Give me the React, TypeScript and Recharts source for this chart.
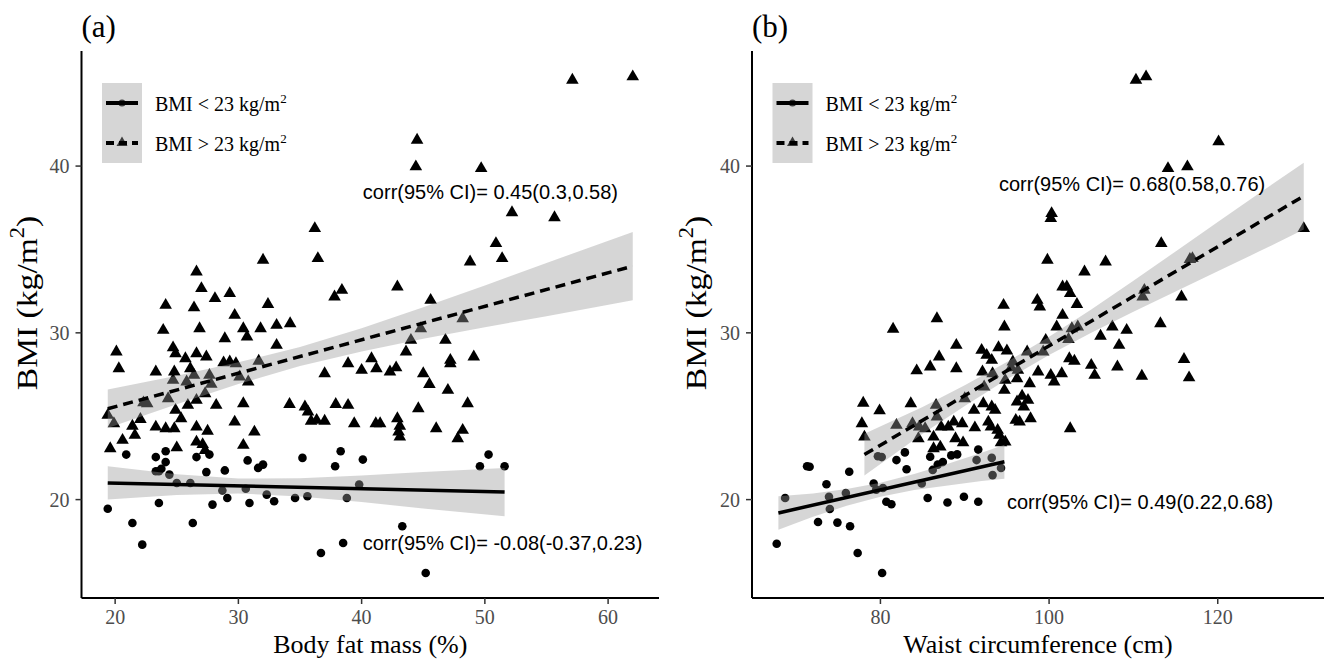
import React from 'react';
import { Area, ComposedChart, Line, Scatter, XAxis, YAxis } from 'recharts';

const SERIF = '"Liberation Serif", "Times New Roman", serif';
const SANS = '"Liberation Sans", Arial, sans-serif';

// shared y axis (BMI)
const bmiDomain = [14.1, 46.9];
const bmiTicks = [20, 30, 40];

// ---- panel (a): body fat mass (%) ----
const fatTicks = [20, 30, 40, 50, 60];
const fatDomain = [17.27, 64.13];

const fatLow: [number, number][] = [
  [19.4, 19.45], [20.9, 22.7], [21.4, 18.6], [22.2, 17.3], [23.3, 22.55], [23.55, 21.7], [24.1, 22.9],
  [24.1, 22.25], [23.75, 21.85], [23.3, 21.7], [24.4, 21.5], [25.0, 21.0], [26.1, 21.0], [23.55, 19.8],
  [26.3, 18.6], [26.6, 22.55], [27.65, 22.7], [27.4, 21.65], [28.9, 21.75], [28.7, 20.55], [29.1, 20.1],
  [27.9, 19.7], [30.75, 22.35], [32.0, 22.1], [31.6, 21.9], [30.6, 20.65], [30.9, 19.8], [32.3, 20.3],
  [32.9, 19.9], [34.6, 20.1], [35.6, 20.2], [35.2, 22.5], [37.85, 22.0], [38.3, 22.9], [40.1, 22.4],
  [39.8, 20.9], [38.8, 20.1], [38.5, 17.4], [36.7, 16.8], [43.3, 18.4], [45.2, 15.6], [50.3, 22.7],
  [49.6, 22.0], [51.6, 22.0],
];

const fatHigh: [number, number][] = [
  [57.1, 45.2], [62.0, 45.4], [44.5, 41.6], [44.4, 40.0], [49.7, 39.9], [52.2, 37.25], [55.65, 36.95],
  [36.2, 36.3], [36.45, 34.5], [50.9, 35.4], [51.4, 34.5], [48.8, 34.3], [32.0, 34.4], [26.6, 33.7],
  [27.0, 32.7], [42.9, 32.8], [38.4, 32.6], [37.8, 32.2], [28.1, 32.1], [29.3, 32.4], [24.1, 31.7],
  [26.4, 31.55], [32.4, 31.75], [45.6, 32.0], [29.7, 31.1], [30.4, 30.3], [30.7, 29.8], [23.9, 30.2],
  [26.85, 30.3], [31.8, 30.3], [33.1, 30.5], [34.2, 30.6], [48.2, 30.9], [44.8, 30.3], [44.0, 29.6],
  [43.6, 28.9], [46.8, 29.6], [20.1, 28.9], [20.3, 27.9], [24.7, 29.15], [24.9, 28.8], [25.7, 28.5],
  [26.6, 28.8], [27.4, 28.6], [28.9, 29.7], [33.1, 29.3], [28.8, 28.25], [29.3, 28.3], [29.8, 28.2],
  [31.65, 28.35], [40.8, 28.5], [38.9, 28.2], [49.1, 28.6], [47.2, 28.4], [47.2, 28.2], [23.3, 27.7],
  [24.8, 27.7], [26.1, 27.9], [37.0, 27.6], [40.0, 27.8], [41.2, 27.9], [42.3, 27.7], [42.8, 27.95],
  [45.0, 27.6], [45.5, 26.95], [47.0, 26.6], [26.4, 27.5], [27.65, 27.5], [27.8, 26.96], [27.3, 26.4],
  [24.7, 27.2], [25.8, 27.1], [30.1, 27.4], [30.8, 27.1], [22.3, 25.85], [22.6, 25.8], [24.3, 26.1],
  [26.6, 26.0], [25.9, 25.7], [28.2, 25.7], [30.4, 25.8], [34.15, 25.75], [37.9, 25.75], [38.9, 25.7],
  [48.6, 25.8], [19.4, 25.1], [19.9, 24.6], [22.05, 24.85], [21.4, 24.45], [21.6, 23.9], [24.9, 25.4],
  [25.35, 24.9], [23.3, 24.4], [24.1, 24.3], [24.8, 24.3], [26.6, 24.4], [27.5, 24.15], [20.6, 23.6],
  [19.6, 23.1], [25.0, 23.15], [26.6, 23.5], [27.1, 23.35], [27.3, 23.0], [30.4, 23.3], [29.7, 24.7],
  [31.3, 24.1], [35.4, 25.6], [35.65, 25.3], [35.9, 24.75], [36.35, 24.8], [37.0, 24.75], [39.4, 24.6],
  [41.15, 24.6], [41.5, 24.6], [42.9, 24.9], [43.1, 24.45], [43.0, 24.1], [43.1, 23.8], [44.6, 25.5],
  [46.05, 24.3], [48.2, 24.2], [47.8, 23.7],
];

// fitted lines (end points) and 95% CI bands [x, lower, upper]
const fatLowFit: [number, number][] = [[19.4, 21.0], [51.6, 20.45]];
const fatHighFit: [number, number][] = [[19.4, 25.45], [62.0, 34.0]];
const fatLowBand: [number, number, number][] = [
  [19.4, 20.0, 22.0], [25, 20.28, 21.52], [30, 20.37, 21.27], [35, 20.18, 21.28],
  [40, 19.85, 21.45], [45, 19.46, 21.66], [51.6, 19.0, 21.9],
];
const fatHighBand: [number, number, number][] = [
  [19.4, 24.3, 26.6], [25, 25.72, 27.42], [30, 26.93, 28.23], [35, 28.01, 29.15], [40, 28.88, 30.28],
  [45, 29.64, 31.54], [50, 30.34, 32.84], [55, 30.99, 34.19], [62.0, 31.95, 36.05],
];
const fatNotes = [
  { x: 40.1, y: 38.45, text: 'corr(95% CI)= 0.45(0.3,0.58)' },
  { x: 40.1, y: 17.4, text: 'corr(95% CI)= -0.08(-0.37,0.23)' },
];

// ---- panel (b): waist circumference (cm) ----
const waistTicks = [80, 100, 120];
const waistDomain = [64.77, 132.6];

const waistLow: [number, number][] = [
  [67.7, 17.35], [68.7, 20.1], [71.3, 22.0], [71.6, 21.97], [73.6, 20.92], [73.9, 20.17], [74.0, 19.44],
  [72.6, 18.66], [74.9, 18.62], [75.9, 20.4], [76.3, 21.67], [76.4, 18.4], [77.3, 16.8], [79.2, 20.97],
  [79.5, 20.6], [79.7, 22.6], [80.15, 22.55], [80.2, 15.6], [80.3, 20.7], [80.7, 19.87], [81.3, 19.72],
  [81.9, 22.37], [82.9, 22.83], [83.1, 21.82], [84.9, 20.97], [85.6, 20.1], [85.9, 22.57], [86.2, 21.78],
  [86.8, 22.1], [87.4, 22.25], [87.95, 19.83], [88.4, 22.65], [89.1, 22.71], [89.9, 20.17], [91.6, 23.0],
  [91.4, 22.37], [91.6, 19.87], [93.2, 22.5], [93.3, 21.47], [94.3, 21.9],
];

const waistHigh: [number, number][] = [
  [110.3, 45.2], [111.5, 45.4], [120.1, 41.5], [114.1, 39.9], [116.4, 40.0], [100.3, 37.2], [100.2, 36.9],
  [130.2, 36.3], [99.8, 34.4], [106.7, 34.3], [104.2, 33.7], [113.3, 35.4], [116.7, 34.45], [117.0, 34.5],
  [101.6, 32.8], [102.1, 32.8], [102.5, 32.4], [98.6, 32.0], [98.9, 31.6], [103.3, 31.75], [115.7, 32.2],
  [111.1, 32.2], [111.3, 32.6], [94.6, 31.7], [94.7, 30.4], [101.6, 31.1], [81.5, 30.27], [86.7, 30.9],
  [113.2, 30.6], [100.9, 30.4], [102.7, 30.3], [103.4, 30.4], [107.5, 30.4], [109.2, 30.2], [106.1, 29.85],
  [108.3, 29.3], [89.0, 29.3], [92.0, 29.0], [94.0, 29.16], [95.0, 28.96], [97.4, 28.9], [99.3, 28.9],
  [99.6, 29.6], [102.3, 29.65], [92.6, 28.7], [93.2, 28.4], [95.7, 28.3], [102.4, 28.5], [103.0, 28.35],
  [105.0, 28.1], [116.0, 28.45], [86.96, 28.6], [85.9, 28.0], [84.3, 27.77], [89.0, 27.9], [95.5, 27.95],
  [96.3, 27.8], [98.7, 27.7], [101.5, 27.6], [105.4, 27.5], [108.1, 28.0], [111.0, 27.45], [116.6, 27.35],
  [92.1, 27.7], [93.3, 27.6], [94.8, 27.2], [96.2, 27.3], [97.7, 27.0], [100.6, 27.1], [77.96, 25.83],
  [79.9, 25.37], [77.8, 24.6], [78.1, 23.8], [81.9, 24.5], [83.6, 25.8], [83.8, 24.6], [84.6, 24.4],
  [85.3, 24.3], [84.5, 23.7], [86.6, 25.7], [86.7, 25.0], [86.3, 23.8], [87.2, 24.4], [88.05, 24.4],
  [88.7, 24.7], [89.7, 24.6], [90.0, 26.1], [91.1, 25.4], [91.2, 24.35], [92.2, 25.8], [92.3, 26.8],
  [93.2, 25.6], [93.6, 25.4], [93.1, 24.4], [92.8, 24.7], [88.9, 23.7], [89.8, 23.45], [87.1, 23.2],
  [86.3, 23.1], [93.9, 24.2], [94.1, 23.9], [94.3, 23.45], [94.8, 23.5], [96.2, 25.9], [96.8, 26.25],
  [97.0, 25.6], [97.5, 26.0], [96.05, 24.8], [96.5, 24.7], [97.8, 24.9], [94.7, 26.6], [102.5, 24.3],
  [100.2, 27.5],
];

const waistLowFit: [number, number][] = [[67.9, 19.2], [94.7, 22.27]];
const waistHighFit: [number, number][] = [[78.1, 22.7], [130.2, 38.2]];
const waistLowBand: [number, number, number][] = [
  [67.9, 18.2, 20.2], [72, 18.97, 20.37], [76, 19.63, 20.63], [80, 20.17, 21.01],
  [84, 20.57, 21.53], [88, 20.85, 22.15], [92, 21.11, 22.81], [94.7, 21.25, 23.29],
];
const waistHighBand: [number, number, number][] = [
  [78.1, 21.45, 23.95], [85, 23.95, 25.55], [90, 25.62, 26.86], [95, 27.21, 28.25], [100, 28.67, 29.77],
  [105, 30.0, 31.4], [110, 31.26, 33.12], [115, 32.48, 34.88], [120, 33.69, 36.65], [125, 34.9, 38.4],
  [130.2, 36.2, 40.2],
];
const waistNotes = [
  { x: 94.06, y: 38.95, text: 'corr(95% CI)= 0.68(0.58,0.76)' },
  { x: 95.0, y: 19.86, text: 'corr(95% CI)= 0.49(0.22,0.68)' },
];

const toPoints = (rows: [number, number][]) => rows.map(([x, y]) => ({ x, y }));
const toBand = (rows: [number, number, number][]) => rows.map(([x, lo, hi]) => ({ x, range: [lo, hi] }));

const DotShape = (p: any) => (p.cx == null ? null : <circle cx={p.cx} cy={p.cy} r={4.3} fill="#000" />);
const TriShape = (p: any) =>
  p.cx == null ? null : (
    <path d={`M${p.cx},${p.cy - 6.6}L${p.cx + 6.3},${p.cy + 4.3}L${p.cx - 6.3},${p.cy + 4.3}Z`} fill="#000" />
  );
const NoteShape = (p: any) =>
  p.cx == null ? null : (
    <text x={p.cx} y={p.cy} dominantBaseline="central" fontSize={20} fontFamily={SANS} fill="#000">
      {p.payload?.text ?? p.text}
    </text>
  );

const H = 662;
const TOP = 51;
const BOTTOM = 598;

function Panel(props: {
  width: number;
  axisLeft: number;
  plotRight: number;
  tag: string;
  xLabel: string;
  xDomain: number[];
  xTicks: number[];
  low: [number, number][];
  high: [number, number][];
  lowFit: [number, number][];
  highFit: [number, number][];
  lowBand: [number, number, number][];
  highBand: [number, number, number][];
  notes: { x: number; y: number; text: string }[];
  yLabelX: number;
}) {
  const { width, axisLeft, plotRight } = props;
  const tickStyle = { fill: '#4D4D4D', fontSize: 20, fontFamily: SERIF };
  const legX = axisLeft + 20.5;
  const rightGap = width - plotRight;
  return (
    <div style={{ position: 'relative', width, height: H }}>
      {/* layer 1: axes + points */}
      <ComposedChart width={width} height={H} margin={{ top: TOP, right: rightGap, bottom: 0, left: 0 }}>
        <XAxis
          type="number"
          dataKey="x"
          domain={props.xDomain}
          ticks={props.xTicks}
          allowDataOverflow
          height={H - BOTTOM}
          tick={tickStyle}
          tickSize={6}
          tickMargin={6}
          axisLine={{ stroke: '#000', strokeWidth: 2 }}
          tickLine={{ stroke: '#333', strokeWidth: 1.5 }}
          label={{ value: props.xLabel, position: 'insideBottom', offset: 9, fill: '#000', fontSize: 26, fontFamily: SERIF }}
        />
        <YAxis
          type="number"
          dataKey="y"
          domain={bmiDomain}
          ticks={bmiTicks}
          allowDataOverflow
          width={axisLeft}
          tick={tickStyle}
          tickSize={6}
          tickMargin={6}
          axisLine={{ stroke: '#000', strokeWidth: 2 }}
          tickLine={{ stroke: '#333', strokeWidth: 1.5 }}
        />
        <Scatter data={toPoints(props.low)} shape={DotShape} isAnimationActive={false} />
        <Scatter data={toPoints(props.high)} shape={TriShape} isAnimationActive={false} />
      </ComposedChart>

      {/* layer 2: CI ribbons drawn over the points, then fitted lines and notes */}
      <div style={{ position: 'absolute', left: 0, top: 0, pointerEvents: 'none' }}>
        <ComposedChart
          width={width}
          height={H}
          margin={{ top: TOP, right: rightGap, bottom: H - BOTTOM, left: axisLeft }}
        >
          <XAxis type="number" dataKey="x" domain={props.xDomain} allowDataOverflow hide />
          <YAxis type="number" dataKey="y" domain={bmiDomain} allowDataOverflow hide />
          <Area
            data={toBand(props.lowBand)}
            dataKey="range"
            type="linear"
            fill="#999999"
            fillOpacity={0.4}
            stroke="none"
            dot={false}
            activeDot={false}
            isAnimationActive={false}
          />
          <Area
            data={toBand(props.highBand)}
            dataKey="range"
            type="linear"
            fill="#999999"
            fillOpacity={0.4}
            stroke="none"
            dot={false}
            activeDot={false}
            isAnimationActive={false}
          />
          <Line data={toPoints(props.lowFit)} dataKey="y" type="linear" stroke="#000" strokeWidth={3.5} dot={false} activeDot={false} isAnimationActive={false} />
          <Line data={toPoints(props.highFit)} dataKey="y" type="linear" stroke="#000" strokeWidth={3.5} strokeDasharray="10 6" dot={false} activeDot={false} isAnimationActive={false} />
          <Scatter data={props.notes} shape={NoteShape} isAnimationActive={false} />
        </ComposedChart>
      </div>

      <svg width={width} height={H} style={{ position: 'absolute', left: 0, top: 0, pointerEvents: 'none' }}>
        <text x={axisLeft} y={37} fontSize={31} fontFamily={SERIF} fill="#000">
          {props.tag}
        </text>
        <text
          transform={`translate(${props.yLabelX},303) rotate(-90) scale(1.12,1)`}
          textAnchor="middle"
          dominantBaseline="central"
          fontSize={30}
          fontFamily={SERIF}
          fill="#000"
        >
          BMI (kg/m
          <tspan dy={-10} fontSize={20}>2</tspan>
          <tspan dy={10}>)</tspan>
        </text>
        {/* legend */}
        <rect x={legX} y={83} width={40} height={80} fill="#D6D6D6" />
        <circle cx={legX + 20} cy={103} r={3.6} fill="#3D3D3D" />
        <line x1={legX + 4} x2={legX + 36} y1={103} y2={103} stroke="#000" strokeWidth={4} />
        <path d={`M${legX + 20},${136.5}L${legX + 25.5},${146}L${legX + 14.5},${146}Z`} fill="#3D3D3D" />
        <line x1={legX + 4} x2={legX + 36} y1={143} y2={143} stroke="#000" strokeWidth={4} strokeDasharray="8 5" />
        {[
          { y: 110.5, sign: '<' },
          { y: 150.5, sign: '>' },
        ].map((r) => (
          <text key={r.sign} x={legX + 53} y={r.y} fontSize={20} fontFamily={SERIF} fill="#000">
            {`BMI ${r.sign} 23 kg/m`}
            <tspan dy={-8} fontSize={13}>2</tspan>
          </text>
        ))}
      </svg>
    </div>
  );
}

export default function App() {
  return (
    <div style={{ position: 'absolute', left: 0, top: 0, width: 1331, height: H, display: 'flex', background: '#fff' }}>
      <Panel
        width={665}
        axisLeft={81.5}
        plotRight={659}
        tag="(a)"
        xLabel="Body fat mass (%)"
        xDomain={fatDomain}
        xTicks={fatTicks}
        low={fatLow}
        high={fatHigh}
        lowFit={fatLowFit}
        highFit={fatHighFit}
        lowBand={fatLowBand}
        highBand={fatHighBand}
        notes={fatNotes}
        yLabelX={27}
      />
      <Panel
        width={666}
        axisLeft={87}
        plotRight={659}
        tag="(b)"
        xLabel="Waist circumference (cm)"
        xDomain={waistDomain}
        xTicks={waistTicks}
        low={waistLow}
        high={waistHigh}
        lowFit={waistLowFit}
        highFit={waistHighFit}
        lowBand={waistLowBand}
        highBand={waistHighBand}
        notes={waistNotes}
        yLabelX={31}
      />
    </div>
  );
}
